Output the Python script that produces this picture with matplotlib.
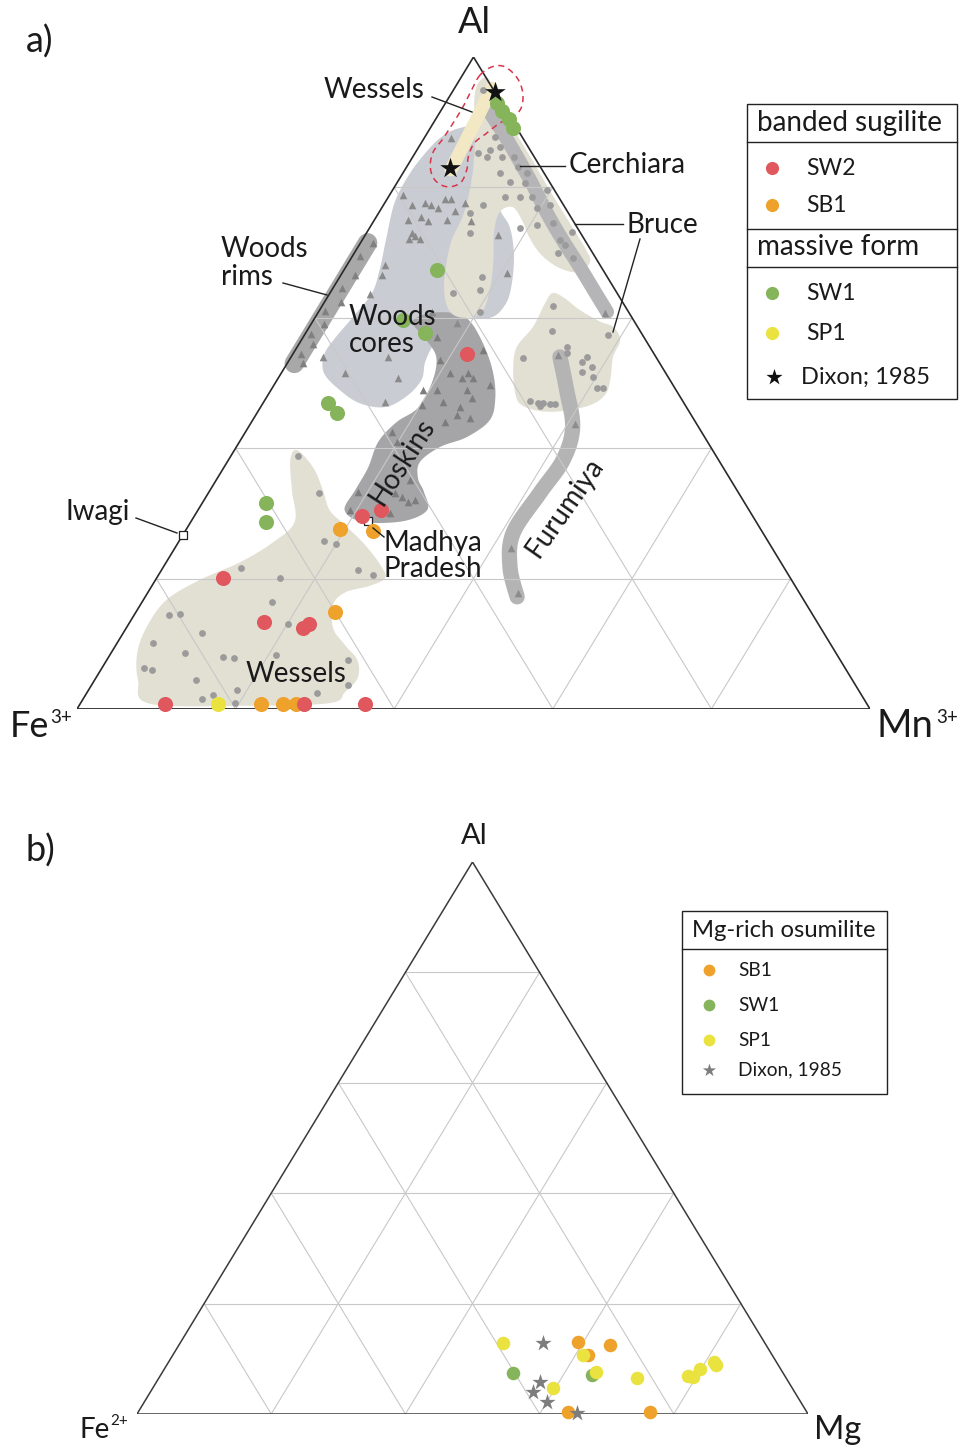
import numpy as np
import matplotlib
matplotlib.use("Agg")
import matplotlib.pyplot as plt
from matplotlib.patches import Rectangle

plt.rcParams['font.family'] = ['Lato', 'DejaVu Sans']

# ---------------------------------------------------------------
# Panel a  -- compositions given as (Al, Mn3+) in %, Fe3+ = 100 - Al - Mn
# ---------------------------------------------------------------
sw2_a = [(54.4, 22.0), (29.6, 21.1), (30.5, 23.1), (20.1, 8.4), (13.3, 16.9),
         (12.4, 22.3), (13.0, 22.7), (0.8, 10.7), (0.8, 28.2), (0.8, 35.9)]
sb1_a = [(27.6, 19.4), (27.3, 23.7), (14.9, 25.1), (0.8, 22.8), (0.8, 25.6), (0.8, 27.2)]
sw1_a = [(92.9, 6.5), (91.7, 7.8), (90.5, 9.2), (89.1, 10.4), (67.3, 11.8), (59.7, 11.3),
         (57.7, 15.0), (46.9, 8.2), (45.4, 10.1), (31.6, 8.0), (28.7, 9.5)]
sp1_a = [(0.8, 17.4)]
dixon_a = [(94.6, 5.4), (83.0, 5.5)]
iwagi = [(26.7, 0.0)]
madhya_pradesh = [(28.8, 22.3)]

# literature data (grey symbols)
wessels_dots = [(38.8, 8.5), (33.1, 14.0), (25.8, 18.2), (25.3, 20.0), (21.3, 24.8), (20.6, 27.0),
                (21.6, 9.9), (20.1, 15.5), (16.4, 16.4), (14.4, 4.4), (14.6, 5.7), (11.7, 9.9),
                (10.1, 4.5), (8.6, 9.3), (13.0, 20.1), (8.0, 14.4), (7.8, 15.9), (8.3, 20.9),
                (7.5, 30.4), (6.3, 5.3), (6.0, 6.5), (4.4, 12.8), (2.9, 18.7), (2.5, 29.0),
                (3.7, 32.3), (1.5, 15.0), (2.1, 16.1), (0.9, 19.5)]
cerchiara_dots = [(94.9, 3.7), (87.7, 8.8), (86.2, 10.2), (85.7, 9.2), (85.3, 7.9), (84.7, 9.4),
                  (84.7, 11.3), (84.7, 12.7), (83.1, 14.0), (82.2, 12.2), (82.2, 15.6), (80.8, 14.2),
                  (80.7, 16.2), (79.6, 19.5), (78.5, 16.6), (78.5, 18.1), (78.5, 14.7), (77.3, 12.5),
                  (76.8, 19.6), (77.3, 21.0), (76.1, 11.5), (74.2, 20.9), (73.8, 19.0), (74.5, 22.8),
                  (73.2, 25.8), (73.0, 13.1), (71.9, 24.9), (71.2, 26.0), (69.9, 25.7), (69.2, 28.0),
                  (66.3, 17.9), (64.3, 18.7), (63.8, 15.5), (60.9, 20.4)]
bruce_dots = [(61.8, 29.1), (58.0, 30.9), (57.4, 38.2), (55.5, 34.0), (54.6, 34.5), (53.8, 29.3),
              (53.2, 37.1), (54.0, 37.3), (52.5, 38.7), (51.7, 37.8), (50.9, 39.6), (49.2, 41.0),
              (49.2, 41.7), (47.2, 33.5), (46.9, 34.7), (46.9, 35.3), (46.8, 36.3), (46.8, 36.9),
              (46.5, 35.1)]
woods_core_tri = [(87.6, 3.3), (78.8, 1.7), (77.3, 3.6), (77.6, 5.1), (77.3, 6.0), (78.2, 7.3),
                  (78.2, 8.1), (76.8, 7.1), (77.6, 10.1), (76.4, 9.5), (75.0, 4.2), (75.5, 5.6),
                  (74.8, 6.8), (75.0, 9.2), (74.8, 12.3), (73.0, 5.7), (72.5, 6.4), (72.1, 5.8),
                  (72.1, 7.2), (72.7, 16.7), (66.9, 20.8), (68.1, 4.8), (66.6, 5.2), (63.6, 5.1),
                  (60.9, 14.3), (59.2, 18.3), (54.0, 12.2), (54.0, 4.0), (51.5, 8.0), (50.8, 15.1),
                  (47.1, 15.3)]
hoskins_tri = [(57.1, 16.9), (55.1, 23.7), (53.5, 19.0), (51.5, 21.3), (50.8, 23.2), (51.5, 23.5),
               (50.8, 24.6), (49.7, 27.2), (48.9, 19.2), (48.9, 20.9), (48.9, 24.7), (47.7, 26.0),
               (47.1, 22.6), (46.6, 20.2), (46.3, 25.1), (45.1, 25.4), (44.0, 24.4), (44.6, 27.2),
               (42.5, 18.5), (40.9, 19.9), (35.1, 24.4), (33.1, 23.5), (32.5, 24.7), (31.7, 25.9),
               (32.1, 26.6), (33.3, 18.8), (30.5, 19.2), (30.1, 24.4)]
woods_rim_tri = [(71.5, 1.6), (69.5, 1.0), (66.5, 1.8), (64.5, 1.2), (62.5, 2.0), (61.0, 0.8),
                 (59.0, 1.6), (57.5, 0.8), (56.0, 1.8), (54.5, 1.0), (53.0, 2.0)]
furumiya_tri = [(54.3, 33.5), (43.7, 40.9), (24.7, 42.4), (17.8, 46.7), (60.7, 36.2)]

# compositional fields (outlines)
field_wessels = [(39.7, 7.9), (37.0, 11.3), (33.6, 14.2), (30.5, 16.6), (28.2, 19.7), (25.2, 23.7),
                 (22.1, 27.2), (20.1, 28.8), (18.9, 27.5), (17.9, 24.9), (16.0, 24.3), (12.4, 26.1),
                 (9.8, 28.9), (7.5, 31.6), (4.8, 33.0), (2.6, 32.5), (0.9, 31.4), (0.5, 21.5),
                 (0.8, 8.8), (4.4, 5.5), (8.6, 3.3), (12.6, 2.5), (16.7, 2.9), (19.8, 5.6),
                 (22.5, 9.3), (25.5, 11.9), (28.7, 13.1), (33.6, 10.3), (38.2, 7.8)]
field_woods_cores = [(87.6, 2.0), (89.1, 3.7), (89.1, 6.0), (85.7, 9.0), (80.4, 11.9), (76.5, 15.1),
                     (73.8, 17.7), (69.6, 20.3), (65.0, 22.3), (62.0, 23.0), (60.0, 22.1), (60.0, 18.3),
                     (58.1, 17.2), (55.8, 17.0), (53.2, 17.3), (50.5, 18.2), (48.0, 17.6), (46.3, 15.7),
                     (46.9, 12.2), (48.9, 8.7), (51.5, 5.4), (54.3, 4.0), (56.9, 4.1), (60.4, 4.8),
                     (63.8, 5.3), (67.3, 4.5), (71.9, 3.0), (77.3, 1.3), (80.8, 0.9), (84.2, 1.1)]
field_hoskins = [(30.5, 18.5), (33.6, 18.3), (37.0, 18.2), (41.0, 17.5), (44.0, 18.3), (46.2, 19.9),
                 (50.2, 19.7), (54.0, 18.3), (56.9, 15.4), (59.4, 12.6), (60.7, 14.1), (60.7, 17.3),
                 (59.4, 19.9), (55.8, 23.4), (51.7, 26.6), (47.7, 28.9), (44.3, 29.9), (41.7, 28.3),
                 (40.2, 25.7), (37.9, 24.3), (35.4, 25.3), (33.3, 27.1), (30.5, 28.9), (28.8, 26.7),
                 (28.7, 21.7)]
field_cerchiara = [(95.9, 2.6), (96.8, 3.4), (93.4, 6.1), (88.8, 10.7), (84.2, 15.3), (79.6, 19.8),
                   (75.0, 24.4), (70.4, 29.0), (68.6, 30.4), (67.0, 29.9), (67.6, 27.1), (69.6, 23.8),
                   (72.2, 21.0), (75.0, 18.6), (77.0, 16.4), (76.2, 15.2), (73.2, 16.0), (68.6, 18.2),
                   (64.3, 19.9), (60.9, 20.6), (60.0, 18.9), (60.9, 16.6), (64.0, 14.3), (68.1, 12.5),
                   (71.9, 11.3), (75.3, 10.9), (78.8, 10.0), (83.4, 8.3), (88.8, 5.8), (93.4, 3.4)]
field_bruce = [(63.8, 28.1), (63.0, 30.0), (61.2, 32.8), (59.4, 36.3), (58.6, 38.3), (56.6, 40.2),
               (54.0, 40.6), (50.5, 42.0), (48.2, 42.5), (46.6, 41.4), (45.7, 38.4), (45.7, 35.5),
               (46.6, 32.8), (48.2, 31.2), (52.0, 29.0), (55.5, 27.7), (58.6, 28.2), (62.3, 27.9)]
trend_cerchiara = [(91.9, 5.9), (87.3, 10.6), (81.1, 16.6), (76.1, 21.2), (71.9, 25.3),
                   (67.8, 29.5), (64.0, 33.3), (60.9, 36.4)]
trend_furumiya = [(54.0, 33.9), (48.9, 37.3), (43.2, 40.9), (38.2, 42.2), (33.1, 41.8),
                  (27.0, 41.5), (21.8, 43.7), (17.2, 46.9)]
trend_woods_rims = [(71.5, 0.9), (53.0, 0.9)]
trend_wessels_hi_al = [(95.2, 4.7), (90.0, 5.2), (82.7, 5.8)]
outline_wessels_hi_al = [(97.2, 2.2), (98.5, 3.1), (98.5, 4.7), (96.8, 7.1), (94.6, 8.9), (92.3, 9.9),
                         (90.8, 9.6), (89.9, 8.4), (88.3, 7.5), (86.8, 6.7), (84.7, 7.0), (82.7, 7.8),
                         (80.7, 8.0), (80.1, 6.6), (81.1, 4.6), (83.1, 3.0), (85.4, 2.2), (87.3, 2.4),
                         (89.9, 2.5), (92.3, 2.5), (94.9, 2.3)]

# ---------------------------------------------------------------
# Panel b  -- Mg-rich osumilite, (Al, Mg) in %, Fe2+ = 100 - Al - Mg
# ---------------------------------------------------------------
sb1_b = [(13.0, 59.2), (12.5, 64.2), (10.7, 61.9), (0.4, 64.0), (0.4, 76.3)]
sw1_b = [(7.4, 52.3), (7.1, 64.3)]
sp1_b = [(12.9, 48.1), (10.7, 61.1), (7.6, 64.6), (4.7, 59.6), (6.5, 71.3), (6.9, 78.7),
         (6.7, 79.5), (8.2, 79.8), (9.4, 81.3), (8.9, 81.9)]
dixon_b = [(12.9, 54.0), (5.8, 57.2), (4.0, 57.0), (2.2, 60.0), (0.2, 65.5)]

# ---------------------------------------------------------------
RED, ORANGE, GREEN, YELLOW = '#e0585e', '#eea22c', '#86b45a', '#e9e23f'
BEIGE, BLUEGREY = '#e2dfd3', '#c9cdd3'
TXT = '#1a1a1a'
W, H = 962, 1450


def to_xy(pts):
    a = np.asarray(pts, float) / 100.0
    al, right = a[:, 0], a[:, 1]
    return right + al / 2.0, al


def catmull(xy, closed=True, n=14):
    P = np.asarray(xy, float)
    if closed:
        P = np.vstack([P[-1], P, P[0], P[1]])
    else:
        P = np.vstack([P[0], P, P[-1]])
    out = []
    t = np.linspace(0, 1, n, endpoint=False)[:, None]
    for i in range(1, len(P) - 2):
        p0, p1, p2, p3 = P[i - 1], P[i], P[i + 1], P[i + 2]
        out.append(0.5 * (2 * p1 + (-p0 + p2) * t + (2 * p0 - 5 * p1 + 4 * p2 - p3) * t ** 2
                          + (-p0 + 3 * p1 - 3 * p2 + p3) * t ** 3))
    if not closed:
        out.append(P[-2][None])
    return np.vstack(out)


def field(ax, pts, color, z):
    x, y = to_xy(pts)
    c = catmull(np.column_stack([x, y]))
    ax.fill(c[:, 0], c[:, 1], color=color, lw=0, zorder=z)


def band(ax, pts, color, width, z):
    x, y = to_xy(pts)
    c = catmull(np.column_stack([x, y]), closed=False) if len(pts) > 2 else np.column_stack([x, y])
    ax.plot(c[:, 0], c[:, 1], color=color, lw=width, solid_capstyle='round', zorder=z,
            clip_on=False)


def frame(ax, lw_edge=1.2, lw_base=1.2, col='#2a2a2a'):
    for i in range(1, 5):
        f = i / 5
        ax.plot([f / 2, 1 - f / 2], [f, f], color='#c8c8c8', lw=0.8, zorder=4)
        ax.plot([f, f + (1 - f) / 2], [0, 1 - f], color='#c8c8c8', lw=0.8, zorder=4)
        ax.plot([1 - f, (1 - f) / 2], [0, 1 - f], color='#c8c8c8', lw=0.8, zorder=4)
    ax.plot([0, 0.5, 1], [0, 1, 0], color=col, lw=lw_edge, zorder=5, solid_joinstyle='miter')
    ax.plot([0, 1], [0, 0], color=col, lw=lw_base, zorder=5)
    ax.set_xlim(0, 1)
    ax.set_ylim(0, 1)
    ax.axis('off')


def pts(ax, data, **kw):
    x, y = to_xy(data)
    ax.scatter(x, y, clip_on=False, **kw)


fig = plt.figure(figsize=(W / 100, H / 100), dpi=100)
axA = fig.add_axes([77 / W, 1 - 709 / H, 793 / W, 652 / H])
axB = fig.add_axes([137 / W, 1 - 1414 / H, 671 / W, 552 / H])
ov = fig.add_axes([0, 0, 1, 1], zorder=10)
ov.set_xlim(0, W)
ov.set_ylim(H, 0)
ov.axis('off')
ov.patch.set_alpha(0)

# ---------------- panel a ----------------
field(axA, field_wessels, BEIGE, 1)
field(axA, field_woods_cores, BLUEGREY, 1.2)
field(axA, field_hoskins, '#a5a5a7', 1.4)
field(axA, field_cerchiara, BEIGE, 1.6)
band(axA, trend_cerchiara, '#b5b5b7', 10, 1.8)
band(axA, trend_wessels_hi_al, '#f2e8c4', 9.5, 1.9)
field(axA, field_bruce, BEIGE, 2.0)
band(axA, trend_furumiya, '#b4b4b4', 11, 2.2)
band(axA, trend_woods_rims, '#a8a8a8', 14, 2.2)
frame(axA, 1.2, 1.3)

tri_kw = dict(marker='^', s=30, color='#8a8a8a', lw=0, zorder=6)
pts(axA, woods_core_tri, **tri_kw)
pts(axA, woods_rim_tri, **dict(tri_kw, color='#808080'))
pts(axA, hoskins_tri, **dict(tri_kw, color='#7c7c7c'))
pts(axA, furumiya_tri, **dict(tri_kw, color='#8c8c8c'))
dot_kw = dict(marker='o', s=24, color='#9b9b9b', lw=0, zorder=6)
pts(axA, wessels_dots, **dot_kw)
pts(axA, cerchiara_dots, **dot_kw)
pts(axA, bruce_dots, **dot_kw)

ox, oy = to_xy(outline_wessels_hi_al)
oc = catmull(np.column_stack([ox, oy]))
axA.plot(np.r_[oc[:, 0], oc[:1, 0]], np.r_[oc[:, 1], oc[:1, 1]], color='#d8344a', lw=1.1,
         ls=(0, (4, 3)), zorder=7, clip_on=False)

pts(axA, iwagi, marker='s', s=40, facecolor='white', edgecolor='#222222', lw=0.9, zorder=7)
pts(axA, madhya_pradesh, marker='s', s=40, facecolor='white', edgecolor='#222222', lw=0.9, zorder=7)

big = 118
pts(axA, sb1_a, marker='o', s=big, color=ORANGE, lw=0, zorder=8)
pts(axA, sw2_a, marker='o', s=big, color=RED, lw=0, zorder=8.2)
pts(axA, sw1_a, marker='o', s=big, color=GREEN, lw=0, zorder=8.4)
pts(axA, sp1_a, marker='o', s=big, color=YELLOW, lw=0, zorder=8.6)
pts(axA, dixon_a, marker='*', s=240, color='#111111', lw=0, zorder=9)

# ---------------- panel b ----------------
frame(axB, 1.1, 1.8, '#3a3a3a')
mid = 95
pts(axB, sb1_b, marker='o', s=mid, color=ORANGE, lw=0, zorder=8)
pts(axB, sw1_b, marker='o', s=mid, color=GREEN, lw=0, zorder=8.2)
pts(axB, sp1_b, marker='o', s=mid, color=YELLOW, lw=0, zorder=8.4)
pts(axB, dixon_b, marker='*', s=150, color='#7d7d7d', lw=0, zorder=9)


# ---------------- annotations ----------------
def label(x, y, s, size=20, **kw):
    ov.text(x, y, s, fontsize=size, color=TXT, va='center', ha=kw.pop('ha', 'left'), **kw)


def leader(x0, y0, x1, y1):
    ov.plot([x0, x1], [y0, y1], color='#222222', lw=1.0)


label(26, 42, 'a)', 26)
label(26, 851, 'b)', 26)
label(474, 22, 'Al', 26, ha='center')
label(474, 836, 'Al', 21, ha='center')
label(10, 726, 'Fe', 26)
label(50, 717, '3+', 13.5)
label(877, 726, 'Mn', 27.5)
label(936, 717, '3+', 13.5)
label(80, 1430, 'Fe', 20)
label(110, 1421, '2+', 11)
label(814, 1430, 'Mg', 23.5)

label(324, 90, 'Wessels')
leader(432, 97, 472, 112)
label(569, 165, 'Cerchiara')
leader(520, 166, 565, 166)
label(627, 225, 'Bruce')
leader(575, 224, 623, 224)
leader(640, 239, 613, 332)
label(221, 249, 'Woods')
label(221, 277, 'rims')
leader(283, 283, 327, 295)
label(349, 317, 'Woods')
label(349, 344, 'cores')
label(402, 462, 'Hoskins', rotation=57, ha='center', rotation_mode='anchor')
label(565, 508, 'Furumiya', rotation=55, ha='center', rotation_mode='anchor')
label(384, 543, 'Madhya')
label(384, 569, 'Pradesh')
leader(373, 528, 384, 537)
label(66, 512, 'Iwagi')
leader(136, 518, 177, 533)
label(246, 674, 'Wessels')

# legend a
ov.add_patch(Rectangle((747, 104), 210, 295, fill=False, ec='#222222', lw=1.0))
for yy in (142, 229, 267):
    ov.plot([747, 957], [yy, yy], color='#222222', lw=1.0)
label(757, 123, 'banded sugilite', 20)
label(757, 247, 'massive form', 20)
for yy, col, name in [(168, RED, 'SW2'), (205, ORANGE, 'SB1'), (293, GREEN, 'SW1'), (333, YELLOW, 'SP1')]:
    ov.scatter([772], [yy], s=90, color=col, lw=0)
    label(806, yy, name, 16.5)
ov.scatter([774], [377], s=150, marker='*', color='#111111', lw=0)
label(801, 377, 'Dixon; 1985', 17)

# legend b
ov.add_patch(Rectangle((682, 911), 205, 183, fill=False, ec='#222222', lw=1.0))
ov.plot([682, 887], [949, 949], color='#222222', lw=1.0)
label(692, 930, 'Mg-rich osumilite', 17.2)
for yy, col, name in [(970, ORANGE, 'SB1'), (1005, GREEN, 'SW1'), (1040, YELLOW, 'SP1')]:
    ov.scatter([709], [yy], s=72, color=col, lw=0)
    label(738, yy, name, 13.8)
ov.scatter([709], [1070], s=100, marker='*', color='#7d7d7d', lw=0)
label(738, 1070, 'Dixon, 1985', 13.8)

fig.savefig('out.png', dpi=100)
